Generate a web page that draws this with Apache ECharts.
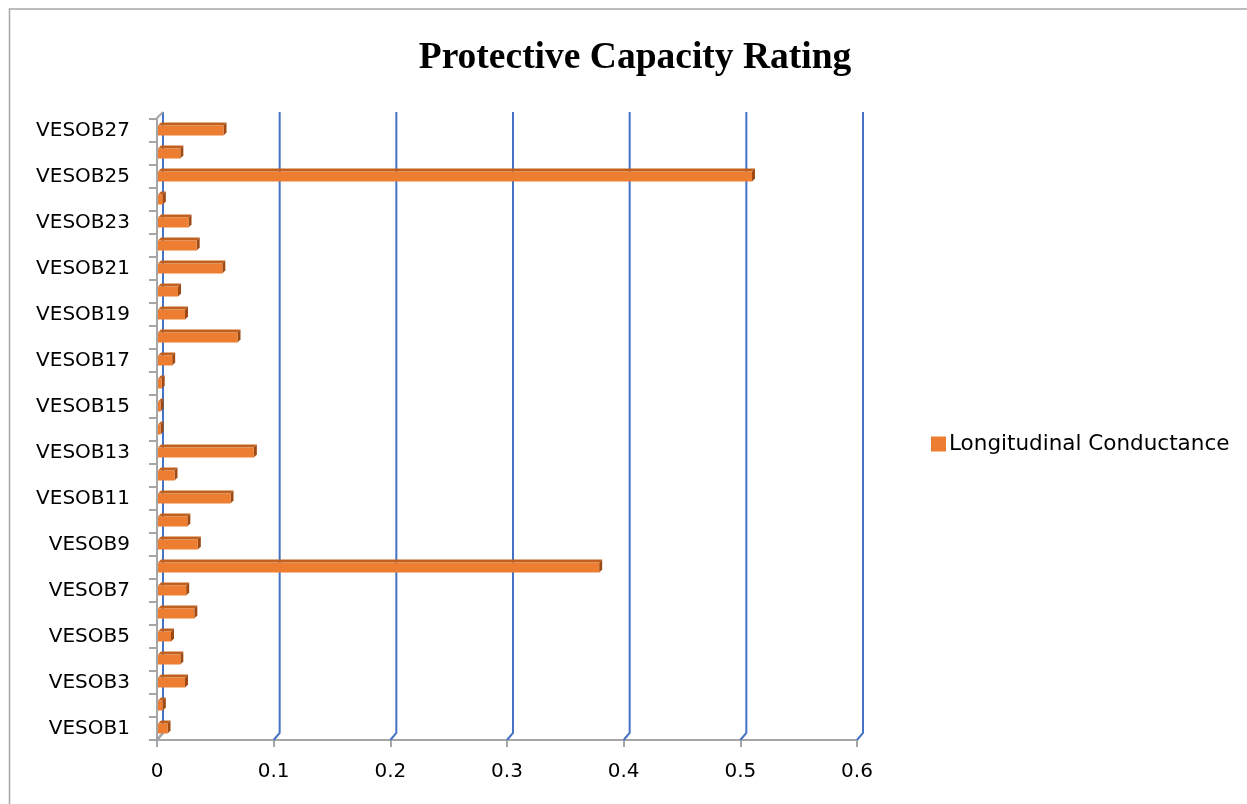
<!DOCTYPE html>
<html>
<head>
<meta charset="utf-8">
<script src="https://cdn.jsdelivr.net/npm/echarts@6/dist/echarts.min.js"></script>
<style>
html,body{margin:0;padding:0;background:#fff;}
#main{width:1247px;height:804px;}
</style>
</head>
<body>
<div id="main"></div>
<script>
// Data (bottom to top)
var categories = ['VESOB1','VESOB2','VESOB3','VESOB4','VESOB5','VESOB6','VESOB7','VESOB8','VESOB9','VESOB10',
  'VESOB11','VESOB12','VESOB13','VESOB14','VESOB15','VESOB16','VESOB17','VESOB18','VESOB19','VESOB20',
  'VESOB21','VESOB22','VESOB23','VESOB24','VESOB25','VESOB26','VESOB27'];
var conductance = [0.009,0.005,0.024,0.020,0.012,0.032,0.025,0.379,0.035,0.026,
  0.063,0.015,0.083,0.003,0.003,0.004,0.013,0.069,0.024,0.018,
  0.056,0.034,0.027,0.005,0.510,0.020,0.057];
var xTicks = [0,0.1,0.2,0.3,0.4,0.5,0.6];
var seriesName = 'Longitudinal Conductance';

var chart = echarts.init(document.getElementById('main'), null, {renderer:'canvas'});
var DX = 6, DY = -7; // 3D depth offset (style)

var option = {
  backgroundColor:'#fff',
  animation:false,
  title:{
    text:'Protective Capacity Rating',
    left:630, top:34, textAlign:'center',
    textStyle:{fontFamily:'Liberation Serif', fontWeight:'bold', fontSize:37.5, color:'#000'}
  },
  legend:{
    left:926, top:428, itemWidth:15, itemHeight:15, itemGap:10,
    icon:'rect',
    textStyle:{fontFamily:'DejaVu Sans', fontSize:21.5, color:'#000', padding:[0,0,0,-2]},
    data:[{name:seriesName, itemStyle:{color:'#ED7D31'}}]
  },
  graphic:[{
    type:'polyline', shape:{points:[[9.5,804],[9.5,9],[1247,9]]},
    style:{stroke:'#A6A6A6', lineWidth:1.5, fill:null}, silent:true
  }],
  grid:{left:157, top:119, width:700, height:621},
  xAxis:{
    type:'value', min:0, max:0.6, interval:0.1,
    axisLine:{show:true, lineStyle:{color:'#A6A6A6', width:2}},
    axisTick:{show:true, length:7, lineStyle:{color:'#A6A6A6', width:2}},
    axisLabel:{fontFamily:'DejaVu Sans', fontSize:20, color:'#000', margin:22},
    splitLine:{show:false}
  },
  yAxis:{
    type:'category', data:categories,
    axisLine:{show:true, lineStyle:{color:'#A6A6A6', width:2}},
    axisTick:{show:true, length:8, interval:0, lineStyle:{color:'#A6A6A6', width:2}},
    axisLabel:{interval:1, fontFamily:'DejaVu Sans', fontSize:20, color:'#000', margin:27, padding:[4,0,0,0]},
    splitLine:{show:false}
  },
  series:[
    {
      // back-wall gridlines with 3D connectors
      type:'custom', silent:true, z:1,
      data:xTicks.map(function(v){return [v];}),
      encode:{x:0},
      renderItem:function(params, api){
        var cs = params.coordSys;
        var x = api.coord([api.value(0), categories[0]])[0];
        var bottom = cs.y + cs.height;
        var top = cs.y;
        var children = [{
          type:'polyline',
          shape:{points:[[x, bottom],[x+DX, bottom+DY],[x+DX, top+DY]]},
          style:{stroke:'#4472C4', lineWidth:2, fill:null}
        }];
        if (api.value(0) === 0) {
          children.push({type:'polyline',
            shape:{points:[[x-1, top],[x+DX, top+DY]]},
            style:{stroke:'#A6A6A6', lineWidth:2, fill:null}});
          children.push({type:'line',
            shape:{x1:x, y1:bottom, x2:x+DX, y2:bottom+DY},
            style:{stroke:'#A6A6A6', lineWidth:2}});
        }
        return {type:'group', children:children};
      }
    },
    {
      name:seriesName,
      type:'custom', z:3,
      itemStyle:{color:'#ED7D31'},
      data:conductance.map(function(v,i){return [v,i];}),
      encode:{x:0, y:1},
      renderItem:function(params, api){
        var end = api.coord([api.value(0), api.value(1)]);
        var start = api.coord([0, api.value(1)]);
        var h = 10;
        var d = 3;
        var y0 = end[1] - 3 - h/2 + d;
        var x0 = start[0] + 1;
        var x1 = end[0];
        return {type:'group', children:[
          {type:'polygon', shape:{points:[[x0,y0],[x0+d,y0-d],[x1+d,y0-d],[x1,y0]]},
            style:{fill:'#C0601F'}},
          {type:'polygon', shape:{points:[[x1,y0],[x1+d,y0-d],[x1+d,y0+h-d],[x1,y0+h]]},
            style:{fill:'#9E4A12'}},
          {type:'rect', shape:{x:x0, y:y0, width:Math.max(x1-x0,0.5), height:h},
            style:{fill:'#ED7D31'}}
        ]};
      }
    }
  ]
};
chart.setOption(option);
</script>
</body>
</html>
